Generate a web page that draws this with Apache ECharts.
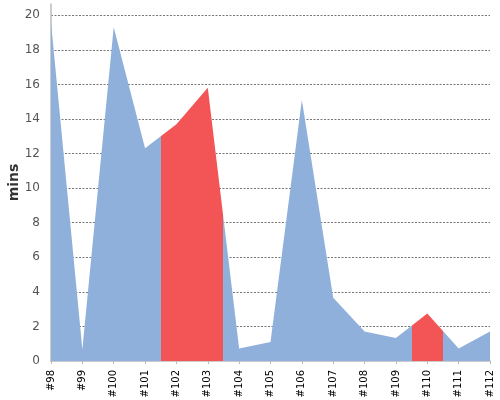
<!DOCTYPE html>
<html>
<head>
<meta charset="utf-8">
<script src="https://cdn.jsdelivr.net/npm/echarts@6/dist/echarts.min.js"></script>
<style>html,body{margin:0;padding:0;background:#fff}#c{width:500px;height:400px}</style>
</head>
<body>
<div id="c"></div>
<script>
const categories = ['#98','#99','#100','#101','#102','#103','#104','#105','#106','#107','#108','#109','#110','#111','#112'];
const values = [19.6, 0.68, 19.3, 12.3, 13.7, 15.8, 0.72, 1.1, 15.1, 3.66, 1.7, 1.33, 2.75, 0.72, 1.7];
const highlightRanges = [[3.5, 5.5], [11.5, 12.5]];
const yTicks = [0, 20, 2];
const blue = 'rgb(143,176,218)';
const red = 'rgb(243,84,85)';

const seriesData = values.map((v, i) => [i, v]);

const chart = echarts.init(document.getElementById('c'), null, {renderer: 'canvas'});
chart.setOption({
  animation: false,
  backgroundColor: '#fff',
  grid: {left: 51, right: 10, top: 4, bottom: 39, containLabel: false, outerBoundsMode: 'none'},
  xAxis: {
    type: 'value',
    min: 0,
    max: categories.length - 1,
    interval: 1,
    offset: 5,
    axisLine: {lineStyle: {color: '#bbb', width: 1.5}},
    axisTick: {show: true, length: 3, lineStyle: {color: '#bbb'}},
    axisLabel: {
      rotate: 90, color: '#000', fontSize: 10, fontFamily: 'DejaVu Sans', margin: 4,
      formatter: v => categories[v] || ''
    },
    splitLine: {show: false}
  },
  yAxis: {
    type: 'value',
    min: yTicks[0],
    max: 20.65,
    interval: yTicks[2],
    offset: 4,
    name: 'mins',
    nameLocation: 'middle',
    nameGap: 26,
    nameMoveOverlap: false,
    nameTextStyle: {fontSize: 14, fontWeight: 'bold', color: '#333', fontFamily: 'DejaVu Sans'},
    axisLine: {show: true, lineStyle: {color: '#bbb', width: 1.5}},
    axisTick: {show: false},
    axisLabel: {color: '#555', fontSize: 12, fontFamily: 'DejaVu Sans', margin: 7, showMaxLabel: false},
    splitLine: {show: true, showMaxLine: false, showMinLine: false, lineStyle: {color: '#777', type: [2, 1.5], width: 1}}
  },
  visualMap: {
    type: 'piecewise',
    show: false,
    dimension: 0,
    seriesIndex: 0,
    pieces: highlightRanges.map(r => ({gt: r[0], lte: r[1], color: red})),
    outOfRange: {color: blue}
  },
  series: [{
    type: 'line',
    data: seriesData,
    symbol: 'none',
    smooth: false,
    lineStyle: {width: 0},
    areaStyle: {opacity: 1}
  }]
});
</script>
</body>
</html>
